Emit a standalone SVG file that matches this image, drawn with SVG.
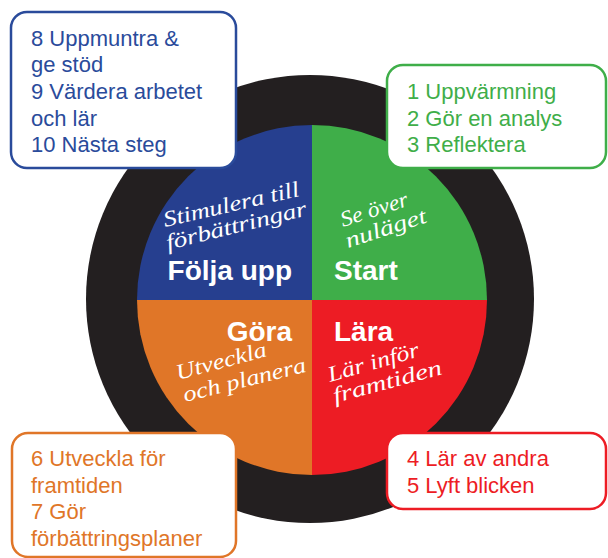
<svg xmlns="http://www.w3.org/2000/svg" width="608" height="558" viewBox="0 0 608 558">
  <style>
    .box { fill: #ffffff; stroke-width: 2.5; }
    .lst { font-family: "Liberation Sans", Arial, sans-serif; font-size: 22px; }
    .big { font-family: "Liberation Sans", Arial, sans-serif; font-size: 28px; font-weight: bold; fill: #ffffff; }
    .scr { font-family: "Liberation Serif", "DejaVu Serif", serif; font-style: italic; font-size: 22px; fill: #ffffff; }
  </style>
  <rect width="608" height="558" fill="#ffffff"/>
  <g id="wheel">
    <circle cx="310" cy="299" r="224" fill="#231f20"/>
    <path d="M312,300 L137,300 A175,175 0 0 1 312,125 Z" fill="#263f8f"/>
    <path d="M312,300 L312,125 A175,175 0 0 1 487,300 Z" fill="#3fae49"/>
    <path d="M312,300 L487,300 A175,175 0 0 1 312,475 Z" fill="#ed1c24"/>
    <path d="M312,300 L312,475 A175,175 0 0 1 137,300 Z" fill="#e07628"/>
  </g>
  <g id="connectors"></g>
  <g id="q-folja">
    <text class="scr" transform="translate(165,227) rotate(-13)" textLength="139" lengthAdjust="spacingAndGlyphs">Stimulera till</text>
    <text class="scr" transform="translate(168,250) rotate(-14)" textLength="144" lengthAdjust="spacingAndGlyphs">förbättringar</text>
    <text class="big" x="292" y="280" text-anchor="end">Följa upp</text>
  </g>
  <g id="q-start">
    <text class="scr" transform="translate(343,227) rotate(-18)" textLength="70" lengthAdjust="spacingAndGlyphs">Se över</text>
    <text class="scr" transform="translate(348,248) rotate(-18)" textLength="84" lengthAdjust="spacingAndGlyphs">nuläget</text>
    <text class="big" x="334" y="280">Start</text>
  </g>
  <g id="q-gora">
    <text class="big" x="292" y="341" text-anchor="end">Göra</text>
    <text class="scr" transform="translate(178,380) rotate(-15)" textLength="93" lengthAdjust="spacingAndGlyphs">Utveckla</text>
    <text class="scr" transform="translate(185,402) rotate(-14)" textLength="126" lengthAdjust="spacingAndGlyphs">och planera</text>
  </g>
  <g id="q-lara">
    <text class="big" x="334" y="341">Lära</text>
    <text class="scr" transform="translate(330,382) rotate(-16)" textLength="94" lengthAdjust="spacingAndGlyphs">Lär inför</text>
    <text class="scr" transform="translate(335,403) rotate(-15)" textLength="112" lengthAdjust="spacingAndGlyphs">framtiden</text>
  </g>
  <g id="box-blue">
    <rect class="box" x="11" y="12" width="225" height="156" rx="16" stroke="#2a4b9b"/>
    <g class="lst" fill="#2a4b9b">
      <text x="31" y="46">8 Uppmuntra &amp;</text>
      <text x="31" y="72">ge stöd</text>
      <text x="31" y="99">9 Värdera arbetet</text>
      <text x="31" y="126">och lär</text>
      <text x="31" y="152">10 Nästa steg</text>
    </g>
  </g>
  <g id="box-green">
    <rect class="box" x="387" y="65" width="219" height="103" rx="16" stroke="#3fae49"/>
    <g class="lst" fill="#3fae49">
      <text x="407" y="99">1 Uppvärmning</text>
      <text x="407" y="126">2 Gör en analys</text>
      <text x="407" y="152">3 Reflektera</text>
    </g>
  </g>
  <g id="box-red">
    <rect class="box" x="387" y="433" width="219" height="76" rx="16" stroke="#ed1c24"/>
    <g class="lst" fill="#ed1c24">
      <text x="407" y="466">4 Lär av andra</text>
      <text x="407" y="493">5 Lyft blicken</text>
    </g>
  </g>
  <g id="box-orange">
    <rect class="box" x="12" y="433" width="224" height="124" rx="16" stroke="#e07628"/>
    <g class="lst" fill="#e07628">
      <text x="31" y="466">6 Utveckla för</text>
      <text x="31" y="493">framtiden</text>
      <text x="31" y="519">7 Gör</text>
      <text x="31" y="546">förbättringsplaner</text>
    </g>
  </g>
</svg>
